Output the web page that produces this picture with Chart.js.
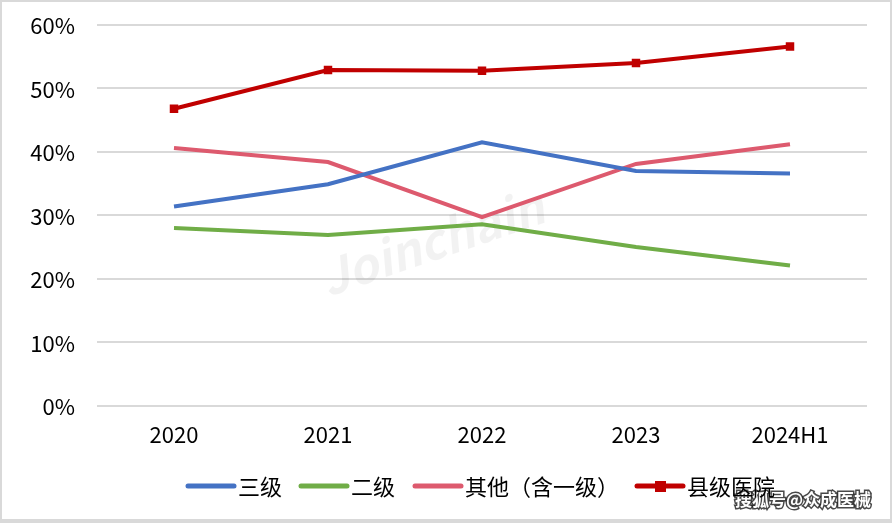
<!DOCTYPE html>
<html>
<head>
<meta charset="utf-8">
<script src="https://cdn.jsdelivr.net/npm/chart.js@4"></script>
<style>
  html, body { margin: 0; padding: 0; background: #fff; }
  #wrap { position: relative; width: 892px; height: 523px; box-sizing: border-box; border: 2px solid #d9d9d9; border-bottom-width: 4px; }
  canvas { display: block; }
</style>
</head>
<body>
<div id="wrap"><canvas id="chart" width="888" height="517"></canvas></div>
<script>
// dados
const categorias = ['2020', '2021', '2022', '2023', '2024H1'];
const sanji = [31.4, 34.9, 41.5, 37.0, 36.6];      // 三级
const erji = [28.0, 26.9, 28.6, 25.0, 22.1];       // 二级
const qita = [40.6, 38.4, 29.7, 38.1, 41.2];       // 其他（含一级）
const xianji = [46.8, 52.9, 52.8, 54.0, 56.6];     // 县级医院
const yTicks = [0, 10, 20, 30, 40, 50, 60];

const FONT = '"Noto Sans CJK SC", "Open Sans", sans-serif';

// rótulos do eixo y, posicionados pela própria escala
const rotulosYPlugin = {
  id: 'rotulosY',
  afterDraw(chart) {
    const ctx = chart.ctx;
    const eixo = chart.scales.y;
    ctx.save();
    ctx.fillStyle = '#000';
    ctx.font = '22px ' + FONT;
    ctx.textAlign = 'right';
    ctx.textBaseline = 'middle';
    yTicks.forEach(v => {
      ctx.fillText(v + '%', eixo.right - 22, eixo.getPixelForValue(v) + 1);
    });
    ctx.restore();
  }
};

// legenda desenhada à mão, abaixo do gráfico
const legendaPlugin = {
  id: 'legenda',
  afterDraw(chart) {
    const ctx = chart.ctx;
    const posX = [184, 297, 411, 633];
    const y = 484;
    ctx.save();
    chart.data.datasets.forEach((ds, i) => {
      const x = posX[i];
      ctx.strokeStyle = ds.borderColor;
      ctx.lineWidth = 5;
      ctx.lineCap = 'round';
      ctx.beginPath();
      ctx.moveTo(x + 2, y);
      ctx.lineTo(x + 48, y);
      ctx.stroke();
      if (ds.pointStyle === 'rect') {
        ctx.fillStyle = ds.pointBackgroundColor;
        ctx.fillRect(x + 20, y - 5, 11, 11);
      }
      ctx.fillStyle = '#000';
      ctx.font = '22px ' + FONT;
      ctx.textBaseline = 'middle';
      ctx.fillText(ds.label, x + 52, y + 1);
    });
    ctx.restore();
  }
};

// marcas d'água
const marcaPlugin = {
  id: 'marca',
  beforeDatasetsDraw(chart) {
    const ctx = chart.ctx;
    ctx.save();
    ctx.translate(430, 240);
    ctx.rotate(-0.33);
    ctx.font = 'italic bold 48px ' + FONT;
    ctx.fillStyle = 'rgba(0,0,0,0.05)';
    ctx.textAlign = 'center';
    ctx.textBaseline = 'middle';
    ctx.fillText('Joinchain', 0, 0);
    ctx.restore();
  },
  afterDraw(chart) {
    const ctx = chart.ctx;
    ctx.save();
    ctx.font = 'bold 17px ' + FONT;
    ctx.textBaseline = 'middle';
    ctx.lineWidth = 3;
    ctx.strokeStyle = 'rgba(40,40,40,0.85)';
    ctx.strokeText('搜狐号@众成医械', 733, 498);
    ctx.fillStyle = '#fff';
    ctx.fillText('搜狐号@众成医械', 733, 498);
    ctx.restore();
  }
};

function serie(label, data, cor, marcador) {
  return {
    label: label,
    data: data,
    borderColor: cor,
    backgroundColor: cor,
    borderWidth: 4,
    tension: 0,
    pointStyle: marcador ? 'rect' : 'circle',
    pointRadius: marcador ? 6 : 0,
    pointHoverRadius: marcador ? 6 : 0,
    pointBackgroundColor: cor,
    pointBorderWidth: 0
  };
}

new Chart(document.getElementById('chart'), {
  type: 'line',
  data: {
    labels: categorias,
    datasets: [
      serie('三级', sanji, '#4472C4', false),
      serie('二级', erji, '#70AD47', false),
      serie('其他（含一级）', qita, '#DD5A6E', false),
      serie('县级医院', xianji, '#C00000', true)
    ]
  },
  options: {
    responsive: false,
    animation: false,
    layout: { padding: { top: 23, right: 23, bottom: 63, left: 0 } },
    plugins: {
      legend: { display: false },
      tooltip: { enabled: false }
    },
    scales: {
      x: {
        offset: true,
        grid: { display: false },
        border: { display: false },
        ticks: { color: '#000', font: { size: 22, family: FONT }, padding: 8 }
      },
      y: {
        min: 0,
        max: 60,
        afterFit(axis) { axis.width = 95; },
        afterBuildTicks(axis) { axis.ticks = yTicks.map(v => ({ value: v })); },
        grid: { color: '#d9d9d9', lineWidth: 2, drawTicks: false },
        border: { display: false },
        ticks: { display: false }
      }
    }
  },
  plugins: [marcaPlugin, rotulosYPlugin, legendaPlugin]
});
</script>
</body>
</html>
